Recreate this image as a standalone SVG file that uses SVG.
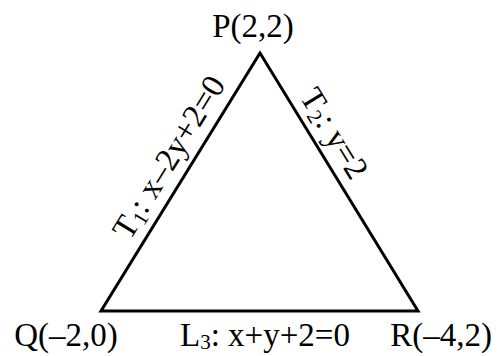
<svg xmlns="http://www.w3.org/2000/svg" width="500" height="356" viewBox="0 0 500 356">
<style>
text{font-family:"Liberation Serif","Times New Roman",serif;font-size:33px;fill:#000}
.sub{font-size:21px}
.edge{fill:none;stroke:#000;stroke-width:3;stroke-linejoin:miter}
</style>
<rect width="500" height="356" fill="#fff"/>
<g id="connectors">
<polygon class="edge" points="260,53 101,311 418,311"/>
</g>
<g id="P"><text x="253" y="37" text-anchor="middle">P(2,2)</text></g>
<g id="Q"><text x="66" y="346" text-anchor="middle">Q(–2,0)</text></g>
<g id="R"><text x="441" y="346" text-anchor="middle">R(–4,2)</text></g>
<g id="T1"><text transform="translate(178,163) rotate(-58.4)" text-anchor="middle">T<tspan class="sub" dy="4">1</tspan><tspan dy="-4">: x–2y+2=0</tspan></text></g>
<g id="T2"><text transform="translate(325,139) rotate(58.5)" text-anchor="middle">T<tspan class="sub" dy="4">2</tspan><tspan dy="-4">: y=2</tspan></text></g>
<g id="L3"><text x="265" y="346" text-anchor="middle">L<tspan class="sub" dy="3">3</tspan><tspan dy="-3">: x+y+2=0</tspan></text></g>
</svg>
